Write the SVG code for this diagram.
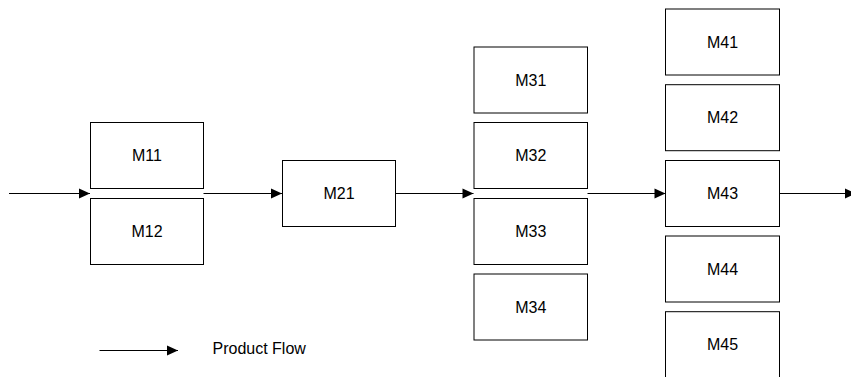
<svg xmlns="http://www.w3.org/2000/svg" width="851" height="377" viewBox="0 0 851 377">
<style>
.box{fill:#fff;stroke:#000;stroke-width:1}
.lbl{font-family:"Liberation Sans",Arial,sans-serif;font-size:16px;fill:#000;text-anchor:middle}
.flow{fill:none;stroke:#000;stroke-width:1;marker-end:url(#ah)}
</style>
<defs>
<marker id="ah" markerUnits="userSpaceOnUse" markerWidth="11" markerHeight="10" refX="11" refY="5" orient="auto" overflow="visible">
<path d="M0,0 L11,5 L0,10 z" fill="#000"/>
</marker>
</defs>
<rect width="851" height="377" fill="#fff"/>
<g id="connectors">
<line class="flow" x1="9" y1="193.5" x2="90" y2="193.5"/>
<line class="flow" x1="203.5" y1="193.5" x2="282" y2="193.5"/>
<line class="flow" x1="395.5" y1="193.5" x2="473.5" y2="193.5"/>
<line class="flow" x1="587.5" y1="193.5" x2="665.5" y2="193.5"/>
<line class="flow" x1="779.5" y1="193.5" x2="856" y2="193.5"/>
<line class="flow" x1="99.5" y1="350.5" x2="178" y2="350.5"/>
</g>
<g id="M11"><rect class="box" x="90.5" y="122.5" width="113" height="66"/><text class="lbl" x="147" y="161">M11</text></g>
<g id="M12"><rect class="box" x="90.5" y="198.5" width="113" height="66"/><text class="lbl" x="147" y="237">M12</text></g>
<g id="M21"><rect class="box" x="282.5" y="160.5" width="113" height="66"/><text class="lbl" x="339" y="199">M21</text></g>
<g id="M31"><rect class="box" x="474" y="47" width="113.5" height="66"/><text class="lbl" x="530.75" y="85.5">M31</text></g>
<g id="M32"><rect class="box" x="474" y="122.5" width="113.5" height="66"/><text class="lbl" x="530.75" y="161">M32</text></g>
<g id="M33"><rect class="box" x="474" y="198.5" width="113.5" height="66"/><text class="lbl" x="530.75" y="237">M33</text></g>
<g id="M34"><rect class="box" x="474" y="274" width="113.5" height="66"/><text class="lbl" x="530.75" y="312.5">M34</text></g>
<g id="M41"><rect class="box" x="665.5" y="9" width="114" height="66"/><text class="lbl" x="722.5" y="47.5">M41</text></g>
<g id="M42"><rect class="box" x="665.5" y="84.7" width="114" height="66"/><text class="lbl" x="722.5" y="123">M42</text></g>
<g id="M43"><rect class="box" x="665.5" y="160.5" width="114" height="66"/><text class="lbl" x="722.5" y="199">M43</text></g>
<g id="M44"><rect class="box" x="665.5" y="236" width="114" height="66"/><text class="lbl" x="722.5" y="274.5">M44</text></g>
<g id="M45"><rect class="box" x="665.5" y="311.7" width="114" height="66"/><text class="lbl" x="722.5" y="350">M45</text></g>
<g id="legend"><text x="212.5" y="354" style="font-family:'Liberation Sans',Arial,sans-serif;font-size:16px;fill:#000">Product Flow</text></g>
</svg>
